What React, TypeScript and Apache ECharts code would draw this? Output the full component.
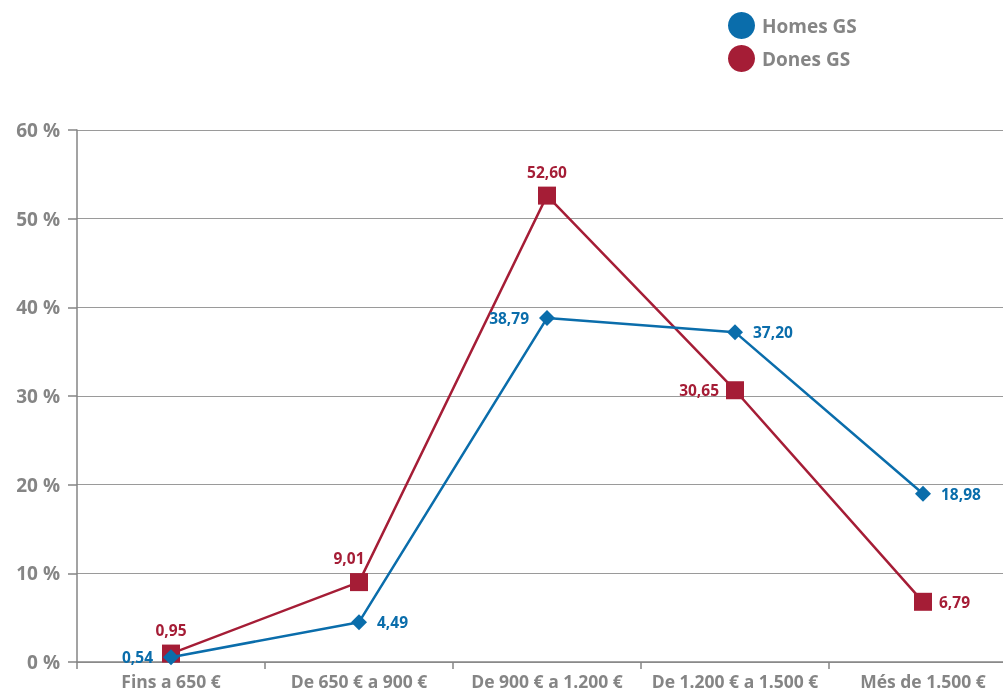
import React, { useEffect, useRef } from "react";
import * as echarts from "echarts";

const categories = ["Fins a 650 €", "De 650 € a 900 €", "De 900 € a 1.200 €", "De 1.200 € a 1.500 €", "Més de 1.500 €"];
const homesValues = [0.54, 4.49, 38.79, 37.2, 18.98];
const donesValues = [0.95, 9.01, 52.6, 30.65, 6.79];
const seriesNames = ["Homes GS", "Dones GS"];

const homesLabelPos = ["left", "right", "left", "right", "right"];
const donesLabelPos = ["top", "top", "top", "left", "right"];
const donesLabelOffset = [[0, 0], [-10, 0], [0, 0], [0, 0], [0, 0]];

const BLUE = "#0a6dab";
const RED = "#a51d36";
const GRAY = "#858585";
const FONT = "'Open Sans', sans-serif";

const fmt = (v: number) => v.toFixed(2).replace(".", ",");

export default function App() {
  const ref = useRef<HTMLDivElement>(null);
  useEffect(() => {
    if (!ref.current) return;
    const chart = echarts.init(ref.current, undefined, { renderer: "svg" });
    chart.setOption({
      animation: false,
      textStyle: { fontFamily: FONT },
      legend: {
        orient: "vertical",
        left: 723,
        top: 7,
        icon: "circle",
        itemWidth: 27,
        itemHeight: 27,
        itemGap: 6,
        textStyle: { color: GRAY, fontWeight: "bold", fontSize: 19, fontFamily: FONT, padding: [0, 0, 0, 2] },
        data: seriesNames,
      },
      grid: { left: 77, top: 130, width: 940, height: 532, containLabel: false, outerBoundsMode: "none" },
      xAxis: {
        type: "category",
        data: categories,
        boundaryGap: true,
        axisLine: { lineStyle: { color: GRAY, width: 1.5 } },
        axisTick: { show: true, length: 7, lineStyle: { color: GRAY, width: 1.5 } },
        axisLabel: { color: GRAY, fontWeight: "bold", fontSize: 17.5, margin: 10, interval: 0, fontFamily: FONT },
      },
      yAxis: {
        type: "value",
        min: 0,
        max: 60,
        interval: 10,
        axisLine: { show: true, lineStyle: { color: GRAY, width: 1.5 } },
        axisTick: { show: true, length: 9, lineStyle: { color: GRAY, width: 1.5 } },
        splitLine: { lineStyle: { color: "#9a9a9a", width: 1.2 } },
        axisLabel: { color: GRAY, fontWeight: "bold", fontSize: 19, margin: 17, formatter: "{value} %", fontFamily: FONT },
      },
      series: [
        {
          name: seriesNames[0],
          type: "line",
          symbol: "diamond",
          symbolSize: 16,
          lineStyle: { color: BLUE, width: 2.5 },
          itemStyle: { color: BLUE },
          z: 3,
          data: homesValues.map((v, i) => ({
            value: v,
            label: { position: homesLabelPos[i] },
          })),
          label: {
            show: true,
            color: BLUE,
            fontWeight: "bold",
            fontSize: 15.5,
            distance: 10,
            fontFamily: FONT,
            formatter: (p: any) => fmt(p.value),
          },
        },
        {
          name: seriesNames[1],
          type: "line",
          symbol: "rect",
          symbolSize: 18,
          lineStyle: { color: RED, width: 2.5 },
          itemStyle: { color: RED },
          z: 2,
          data: donesValues.map((v, i) => ({
            value: v,
            label: { position: donesLabelPos[i], offset: donesLabelOffset[i] },
          })),
          label: {
            show: true,
            color: RED,
            fontWeight: "bold",
            fontSize: 15.5,
            distance: 7,
            fontFamily: FONT,
            formatter: (p: any) => fmt(p.value),
          },
        },
      ],
    });
    return () => chart.dispose();
  }, []);
  return <div ref={ref} style={{ position: "fixed", left: 0, top: 0, width: 1003, height: 693 }} />;
}
